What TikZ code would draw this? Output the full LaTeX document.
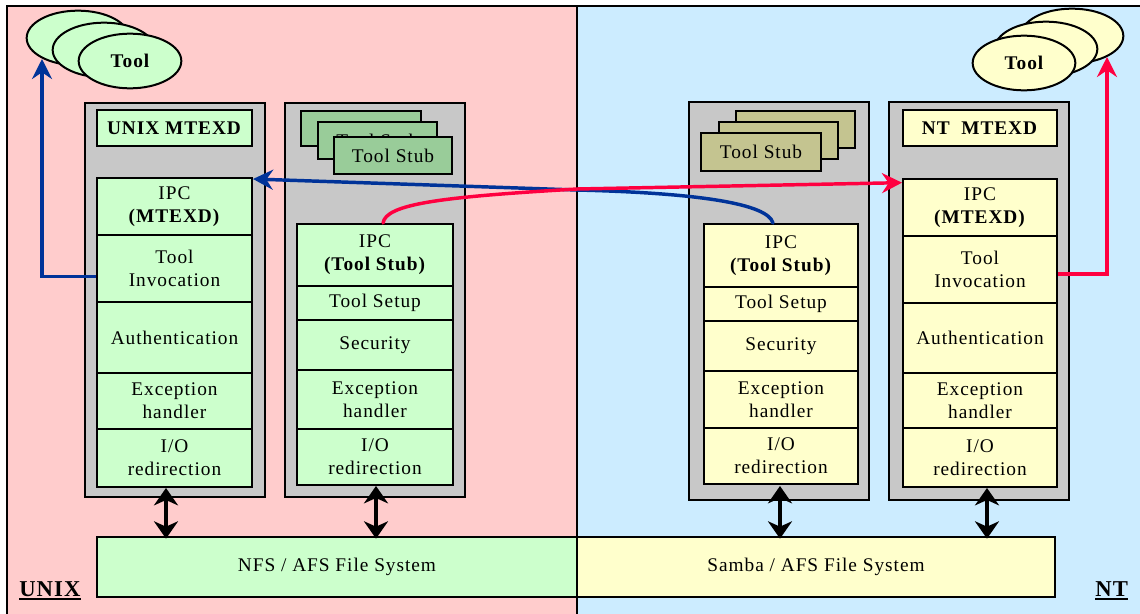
\documentclass[tikz,border=0pt]{standalone}
\usepackage{fontspec}
\setmainfont{Liberation Serif}[LetterSpace=5]
\usetikzlibrary{shapes.geometric,arrows.meta}

\definecolor{unixbg}{HTML}{FFCCCC}
\definecolor{ntbg}{HTML}{CCECFF}
\definecolor{unixfill}{HTML}{CCFFCC}
\definecolor{ntfill}{HTML}{FFFFCC}
\definecolor{panel}{HTML}{C8C8C8}
\definecolor{linkblue}{HTML}{003399}
\definecolor{linkred}{HTML}{FF0040}
\definecolor{stubgreenA}{HTML}{99CC99}
\definecolor{stubgreenB}{HTML}{E6FFE6}
\definecolor{stubkhakiA}{HTML}{C4C490}
\definecolor{stubkhakiB}{HTML}{FFFFE6}

\begin{document}
\begin{tikzpicture}[x=0.75pt,y=-0.75pt,
  % a rectangle spanning the corners (x1,y1) and (x2,y2), in pixel units
  area/.style n args={4}{rectangle, inner sep=0pt,
    minimum width={(#3-#1)*0.75pt}, minimum height={(#4-#2)*0.75pt},
    at={({(#1+#3)/2},{(#2+#4)/2})}},
  txt/.style={font=\fontsize{14.5pt}{17.25pt}\selectfont},
  panelbox/.style={draw, line width=1.5pt, fill=panel},
  layer/.style={txt, draw, line width=1.5pt, align=center},
  ulayer/.style={layer, fill=unixfill},
  nlayer/.style={layer, fill=ntfill},
  ustub/.style={txt, draw, line width=1.2pt,
    top color=stubgreenA, middle color=stubgreenB, bottom color=stubgreenA},
  nstub/.style={txt, draw, line width=1.2pt,
    top color=stubkhakiA, middle color=stubkhakiB, bottom color=stubkhakiA},
  tool/.style={ellipse, draw, line width=1.5pt, inner sep=0pt,
    minimum width=77pt, minimum height=41pt,
    font=\fontsize{14.5pt}{17.25pt}\selectfont\bfseries},
  link/.style={line width=2.6pt, line cap=round,
    -{Stealth[length=15pt,width=15pt,inset=5pt]}},
  dblarrow/.style={line width=3pt,
    {Stealth[length=13pt,width=18pt,inset=4pt]}-{Stealth[length=13pt,width=18pt,inset=4pt]}},
  oslabel/.style={font=\fontsize{17pt}{20pt}\selectfont\bfseries, inner sep=0pt}
]
\useasboundingbox (0,0) rectangle (1140,614);

% backgrounds of the two platforms
\begin{scope}
  \clip (0,0) rectangle (1140,614);
  \fill[unixbg] (7,6) rectangle (577,620);
  \fill[ntbg] (577,6) rectangle (1145,620);
  \draw[line width=1.5pt] (7,620) -- (7,6) -- (1145,6);
\end{scope}

% daemon and stub panels
\node[panelbox, area={85}{103}{265}{497}] (gA) {};
\node[panelbox, area={285}{103}{465}{497}] (gB) {};
\node[panelbox, area={689}{102}{869}{500}] (gC) {};
\node[panelbox, area={889}{102}{1069}{500}] (gD) {};

% UNIX MTEXD
\node[ulayer, area={97}{110}{252}{146}] (iA0) {\textbf{UNIX MTEXD}};
\node[ulayer, area={97}{178}{252}{235}] (iA1) {IPC\\\textbf{(MTEXD)}};
\node[ulayer, area={97}{235}{252}{302}] (iA2) {Tool\\Invocation};
\node[ulayer, area={97}{302}{252}{373}] (iA3) {Authentication};
\node[ulayer, area={97}{373}{252}{429}] (iA4) {Exception\\handler};
\node[ulayer, area={97}{429}{252}{487}] (iA5) {I/O\\redirection};

% UNIX tool stubs, stacked (only the front one is fully visible)
\node[ustub, area={301}{111}{421}{146}] (sB1) {};
\node[ustub, area={318}{122}{437}{159}] (sB2) {Tool Stub};
\node[ustub, area={334}{137}{452}{174}] (sB3) {Tool Stub};
\node[ulayer, area={297}{224}{453}{286}] (iB1) {IPC\\\textbf{(Tool Stub)}};
\node[ulayer, area={297}{286}{453}{320}] (iB2) {Tool Setup};
\node[ulayer, area={297}{320}{453}{370}] (iB3) {Security};
\node[ulayer, area={297}{370}{453}{429}] (iB4) {Exception\\handler};
\node[ulayer, area={297}{429}{453}{485}] (iB5) {I/O\\redirection};

% NT tool stubs, stacked
\node[nstub, area={736}{111}{855}{148}] (sC1) {};
\node[nstub, area={719}{122}{838}{159}] (sC2) {};
\node[nstub, area={701}{133}{821}{171}] (sC3) {Tool Stub};
\node[nlayer, area={704}{224}{858}{287}] (iC1) {IPC\\\textbf{(Tool Stub)}};
\node[nlayer, area={704}{287}{858}{321}] (iC2) {Tool Setup};
\node[nlayer, area={704}{321}{858}{371}] (iC3) {Security};
\node[nlayer, area={704}{371}{858}{428}] (iC4) {Exception\\handler};
\node[nlayer, area={704}{428}{858}{484}] (iC5) {I/O\\redirection};

% NT MTEXD
\node[nlayer, area={903}{110}{1057}{146}] (iD0) {\textbf{NT\ \ MTEXD}};
\node[nlayer, area={903}{179}{1057}{236}] (iD1) {IPC\\\textbf{(MTEXD)}};
\node[nlayer, area={903}{236}{1057}{303}] (iD2) {Tool\\Invocation};
\node[nlayer, area={903}{303}{1057}{373}] (iD3) {Authentication};
\node[nlayer, area={903}{373}{1057}{428}] (iD4) {Exception\\handler};
\node[nlayer, area={903}{428}{1057}{487}] (iD5) {I/O\\redirection};

% launched tools
\node[tool, fill=unixfill] (tU1) at (78,38) {};
\node[tool, fill=unixfill] (tU2) at (104,50) {};
\node[tool, fill=unixfill] (tU3) at (130,61) {Tool};
\node[tool, fill=ntfill] (tN1) at (1072,36) {};
\node[tool, fill=ntfill] (tN2) at (1046,49) {};
\node[tool, fill=ntfill] (tN3) at (1024,63) {Tool};

% shared file systems
\node[layer, fill=unixfill, area={97}{537}{577}{597}] (fsU) {NFS / AFS File System};
\node[layer, fill=ntfill, area={577}{537}{1055}{597}] (fsN) {Samba / AFS File System};

% platform divider
\draw[line width=1.5pt] (577,6) -- (577,620);

% file system access
\coordinate (dA) at (166,488);
\coordinate (dB) at (376,486);
\coordinate (dC) at (780,486);
\coordinate (dD) at (987,488);
\draw[dblarrow] (dA) -- ([yshift=-2pt]dA |- fsU.north);
\draw[dblarrow] (dB) -- ([yshift=-2pt]dB |- fsU.north);
\draw[dblarrow] (dC) -- ([yshift=-2pt]dC |- fsN.north);
\draw[dblarrow] (dD) -- ([yshift=-2pt]dD |- fsN.north);

% tool invocation
\coordinate (upU) at (42,59);
\coordinate (upN) at (1107,57);
\draw[link, draw=linkblue, line cap=butt] ([yshift=-6pt]iA2.west) -| (upU);
\draw[link, draw=linkred, line cap=butt] ([yshift=-3.5pt]iD2.east) -| (upN);

% IPC between stubs and daemons
\coordinate (midB) at (577,190);
\coordinate (midR) at (577,189);
\draw[link, draw=linkblue] ([xshift=-6pt]iC1.north)
  .. controls (768,204) and (700,193) .. (midB) -- ([yshift=-1.5pt]iA1.north east);
\draw[link, draw=linkred] ([xshift=6pt]iB1.north)
  .. controls (386,204) and (440,197) .. (midR) -- ([yshift=-3.5pt]iD1.north west);

% platform names
\node[oslabel, anchor=base west] (lU) at (19,596) {UNIX};
\draw[line width=1.4pt] ([yshift=-2.5pt]lU.base west) -- ([yshift=-2.5pt]lU.base east);
\node[oslabel, anchor=base west] (lN) at (1095,596) {NT};
\draw[line width=1.4pt] ([yshift=-2.5pt]lN.base west) -- ([yshift=-2.5pt]lN.base east);
\end{tikzpicture}
\end{document}
